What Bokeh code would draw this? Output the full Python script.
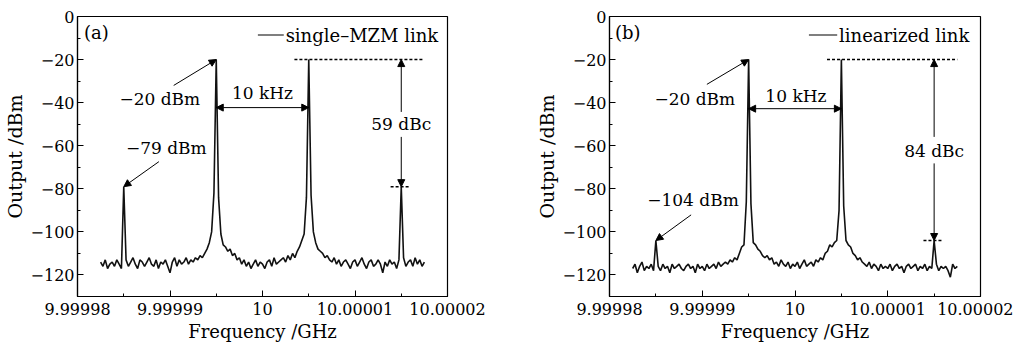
import numpy as np
from bokeh.plotting import figure
from bokeh.layouts import row
from bokeh.models import Range1d, FixedTicker, CustomJSTickFormatter, Arrow, NormalHead, Label
from bokeh.embed import file_html
from bokeh.resources import INLINE

# ---------------- data ----------------
FREQ_START_GHZ = 9.9999825      # first sweep point
FREQ_STEP_GHZ = 0.00000025      # sweep resolution (0.25 kHz)

# (a) single-MZM link, output power in dBm
OUTPUT_A = [
    -114, -116, -113, -117, -115, -114, -116, -113, -115, -117,
    -79,
    -113, -116, -114, -112, -115, -117, -113, -114, -116,
    -114, -112, -115, -116, -113, -117, -114, -115, -113, -116,
    -119, -114, -112, -116, -113, -115, -114, -112, -115, -113,
    -114, -112, -113, -111, -112, -110, -108, -105, -100, -82,
    -20,
    -84, -101, -106, -107, -109, -108, -111, -110, -113,
    -112, -115, -113, -116, -114, -117, -115, -113, -116, -114,
    -115, -117, -114, -113, -116, -112, -115, -114, -113, -112,
    -114, -111, -113, -110, -112, -109, -107, -104, -101, -84,
    -20,
    -83, -100, -105, -108, -109, -110, -112, -111, -113,
    -114, -112, -115, -113, -116, -114, -113, -115, -117, -114,
    -113, -116, -114, -112, -115, -117, -114, -113, -116, -115,
    -113, -115, -119, -114, -116, -113, -115, -114, -117, -113,
    -79,
    -112, -116, -114, -113, -116, -112, -115, -113, -116, -114,
]

# (b) linearized link, output power in dBm
OUTPUT_B = [
    -117, -115, -119, -116, -114, -118, -116, -117, -115, -118,
    -104,
    -116, -118, -115, -117, -116, -119, -115, -117, -116,
    -115, -117, -118, -116, -115, -117, -116, -119, -115, -117,
    -116, -118, -115, -117, -116, -115, -117, -114, -116, -115,
    -114, -115, -113, -114, -112, -113, -110, -107, -106, -86,
    -20,
    -87, -105, -106, -108, -109, -111, -112, -111, -113,
    -112, -115, -114, -116, -113, -115, -116, -114, -117, -115,
    -116, -114, -117, -115, -113, -116, -115, -114, -116, -113,
    -114, -112, -113, -110, -109, -106, -107, -105, -104, -90,
    -20,
    -88, -104, -106, -107, -110, -111, -113, -112, -114,
    -115, -116, -114, -117, -115, -116, -118, -115, -117, -116,
    -117, -115, -118, -116, -115, -117, -116, -119, -116, -115,
    -117, -116, -115, -118, -116, -117, -115, -118, -116, -117,
    -104,
    -115, -118, -116, -117, -116, -118, -121, -115, -117, -116,
]

FUND_FREQS = [9.999995, 10.000005]
FUND_LEVEL = -20
IMD_FREQS = [9.999985, 10.000015]
IMD_LEVEL_A = -79
IMD_LEVEL_B = -104

X_TICKS = [9.99998, 9.99999, 10.0, 10.00001, 10.00002]
X_TICK_LABELS = ["9.99998", "9.99999", "10", "10.00001", "10.00002"]
X_MINOR = [9.999985, 9.999995, 10.000005, 10.000015]
Y_TICKS = [0, -20, -40, -60, -80, -100, -120]
Y_TICK_LABELS = ["0", "\u221220", "\u221240", "\u221260", "\u221280", "\u2212100", "\u2212120"]
Y_MINOR = [-10, -30, -50, -70, -90, -110]

FONT = "DejaVu Serif"
KHZ = 1e-6  # GHz per kHz

FMT_CODE = """
let k = 0, best = Infinity;
for (let j = 0; j < t.length; j++) { const d = Math.abs(t[j] - tick); if (d < best) { best = d; k = j; } }
return l[k];
"""


def head():
    return NormalHead(size=7, fill_color="black", line_color="black", line_width=1)


def label(p, x, y, text, size="17px", align="center"):
    p.add_layout(Label(x=x, y=y, text=text, text_font=FONT, text_font_size=size,
                       text_align=align, text_baseline="middle", text_color="black"))


def make_panel(values, imd_level, tag, legend_text, dbc_text, imd_text, width,
               border_left, border_right, lay):
    p = figure(width=width, height=344, output_backend="svg", toolbar_location=None,
               x_range=Range1d(9.99998, 10.00002), y_range=Range1d(-130, 0),
               min_border_left=border_left, min_border_right=border_right,
               min_border_top=16, min_border_bottom=48)
    p.background_fill_color = "white"
    p.border_fill_color = "white"
    p.outline_line_color = "black"
    p.outline_line_width = 1.2
    p.grid.visible = False

    freqs = FREQ_START_GHZ + FREQ_STEP_GHZ * np.arange(len(values))
    p.line(freqs, values, line_color="#111111", line_width=1.6)

    p.xaxis.ticker = FixedTicker(ticks=X_TICKS, minor_ticks=X_MINOR)
    p.yaxis.ticker = FixedTicker(ticks=Y_TICKS, minor_ticks=Y_MINOR)
    p.xaxis.formatter = CustomJSTickFormatter(args=dict(t=X_TICKS, l=X_TICK_LABELS), code=FMT_CODE)
    p.yaxis.formatter = CustomJSTickFormatter(args=dict(t=Y_TICKS, l=Y_TICK_LABELS), code=FMT_CODE)
    p.xaxis.axis_label = "Frequency /GHz"
    p.yaxis.axis_label = "Output /dBm"
    for ax in (p.xaxis, p.yaxis):
        ax.major_tick_in = 6
        ax.major_tick_out = 0
        ax.minor_tick_in = 3
        ax.minor_tick_out = 0
        ax.axis_line_color = "black"
        ax.axis_line_width = 1.2
        ax.major_tick_line_color = "black"
        ax.minor_tick_line_color = "black"
        ax.major_label_text_font = FONT
        ax.major_label_text_font_size = "16px"
        ax.major_label_text_color = "black"
        ax.axis_label_text_font = FONT
        ax.axis_label_text_font_style = "normal"
        ax.axis_label_text_color = "black"
    p.xaxis.axis_label_text_font_size = "18px"
    p.yaxis.axis_label_text_font_size = "19px"
    p.xaxis.major_label_standoff = 6
    p.xaxis.axis_label_standoff = 3
    p.yaxis.major_label_standoff = 3
    p.yaxis.axis_label_standoff = 2

    f1, f2 = FUND_FREQS
    i1, i2 = IMD_FREQS
    # panel tag and legend
    label(p, 10 + lay["tag_x"] * KHZ, -7.5, tag, size="18px", align="left")
    p.line([10 + lay["leg_x0"] * KHZ, 10 + lay["leg_x1"] * KHZ], [-8.6, -8.6],
           line_color="black", line_width=1.2)
    label(p, 10 + (lay["leg_x1"] + 0.2) * KHZ, -8.6, legend_text, size="18px", align="left")

    # -20 dBm annotation
    label(p, 10 + lay["f_lbl_x"] * KHZ, -38.5, "\u221220 dBm")
    p.add_layout(Arrow(end=head(), x_start=10 + lay["f_arr_x"] * KHZ, y_start=lay["f_arr_y"],
                       x_end=f1, y_end=FUND_LEVEL, line_width=1, line_color="black"))

    # 10 kHz spacing
    label(p, 10 + lay["k_lbl_x"] * KHZ, lay["k_lbl_y"], "10 kHz")
    p.add_layout(Arrow(start=head(), end=head(), x_start=f1, y_start=lay["k_arr_y"],
                       x_end=f2, y_end=lay["k_arr_y"], line_width=1, line_color="black"))

    # dashed reference levels
    p.line([10 + 3.45 * KHZ, 10 + 17.5 * KHZ], [FUND_LEVEL, FUND_LEVEL],
           line_color="black", line_width=1.5, line_dash="3 2")
    p.line([i2 - 1.15 * KHZ, i2 + 0.9 * KHZ], [imd_level, imd_level],
           line_color="black", line_width=1.5, line_dash="3 2")

    # dBc vertical arrows
    p.add_layout(Arrow(end=head(), x_start=i2, y_start=lay["d_top"], x_end=i2, y_end=FUND_LEVEL,
                       line_width=1, line_color="black"))
    p.add_layout(Arrow(end=head(), x_start=i2, y_start=lay["d_bot"], x_end=i2, y_end=imd_level,
                       line_width=1, line_color="black"))
    label(p, i2, lay["d_lbl_y"], dbc_text)

    # IMD3 annotation
    label(p, 10 + lay["i_lbl_x"] * KHZ, lay["i_lbl_y"], imd_text)
    p.add_layout(Arrow(end=head(), x_start=10 + lay["i_arr_x"] * KHZ, y_start=lay["i_arr_y"],
                       x_end=i1, y_end=imd_level, line_width=1, line_color="black"))
    return p


LAY_A = dict(tag_x=-19.3, leg_x0=-0.5, leg_x1=2.3, f_lbl_x=-11.1, f_arr_x=-9.6, f_arr_y=-32.0,
             k_lbl_x=0.0, k_lbl_y=-35.6, k_arr_y=-42.3, d_top=-44.3, d_bot=-55.9, d_lbl_y=-50.0,
             i_lbl_x=-10.4, i_lbl_y=-61.1, i_arr_x=-11.2, i_arr_y=-67.4)
LAY_B = dict(tag_x=-19.4, leg_x0=1.5, leg_x1=4.55, f_lbl_x=-10.8, f_arr_x=-9.5, f_arr_y=-31.5,
             k_lbl_x=0.1, k_lbl_y=-36.9, k_arr_y=-42.8, d_top=-55.9, d_bot=-68.2, d_lbl_y=-62.3,
             i_lbl_x=-11.0, i_lbl_y=-85.1, i_arr_x=-11.2, i_arr_y=-92.1)

pa = make_panel(OUTPUT_A, IMD_LEVEL_A, "(a)", "single\u2013MZM link", "59 dBc", "\u221279 dBm",
                500, 76, 53, LAY_A)
pb = make_panel(OUTPUT_B, IMD_LEVEL_B, "(b)", "linearized link", "84 dBc", "\u2212104 dBm",
                513, 109, 33, LAY_B)

layout = row(pa, pb)
open("out.html", "w").write(file_html(layout, INLINE))
